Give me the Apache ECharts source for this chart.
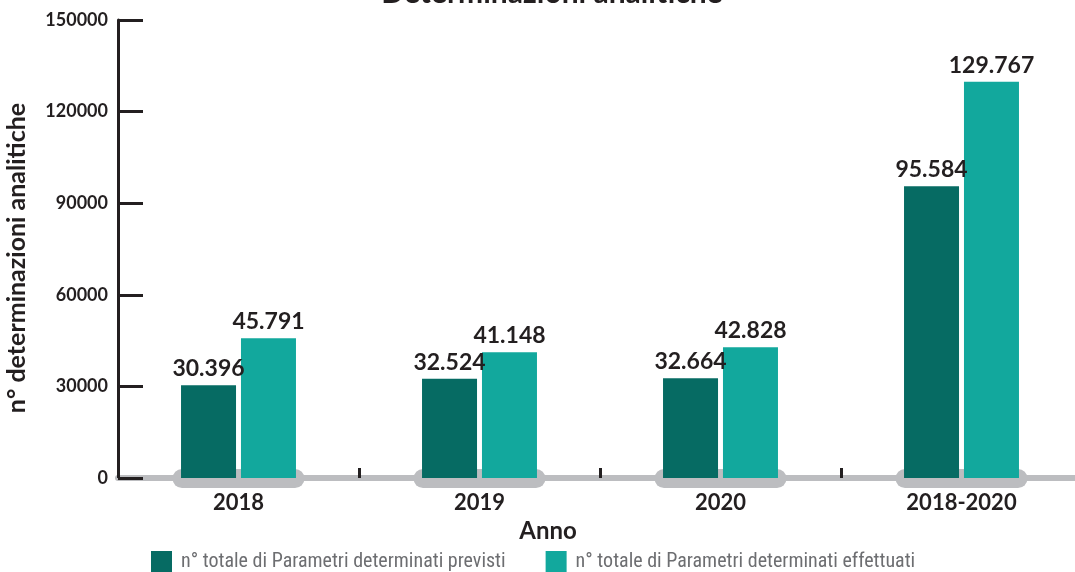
<!DOCTYPE html>
<html>
<head>
<meta charset="utf-8">
<script src="https://cdn.jsdelivr.net/npm/echarts@6/dist/echarts.min.js"></script>
<style>html,body{margin:0;padding:0;background:#fff;overflow:hidden}#c{width:1082px;height:572px}</style>
</head>
<body>
<div id="c"></div>
<script>
const titleText = 'Determinazioni analitiche';
const categories = ['2018', '2019', '2020', '2018-2020'];
const seriesNames = ['n° totale di Parametri determinati previsti', 'n° totale di Parametri determinati effettuati'];
const previsti = [30396, 32524, 32664, 95584];
const effettuati = [45791, 41148, 42828, 129767];
const yTicks = { min: 0, max: 150000, interval: 30000 };
const xName = 'Anno';
const yName = 'n° determinazioni analitiche';

const dark = '#066b63', light = '#12a89d', ink = '#231f20', grayLine = '#bcbdc0';
const FONT = 'Lato';
function fmt(v) { return String(v).replace(/\B(?=(\d{3})+(?!\d))/g, '.'); }

const chart = echarts.init(document.getElementById('c'));
const labelStyle = { show: true, position: 'top', distance: 5, color: ink, fontFamily: FONT, fontWeight: 'bold', fontSize: 23, formatter: p => fmt(p.value) };

chart.setOption({
  animation: false,
  title: { text: titleText, left: 547, textAlign: 'center', top: -27, textStyle: { fontFamily: FONT, fontWeight: 'bold', fontSize: 30, color: ink } },
  grid: { left: 118, top: 20, bottom: 94, right: 0, containLabel: false, outerBoundsMode: 'none' },
  legend: {
    data: seriesNames, left: 151, top: 551, itemWidth: 21, itemHeight: 21, itemGap: 40, padding: 0,
    icon: 'rect',
    textStyle: { fontFamily: 'Liberation Sans Narrow, Roboto Condensed, DejaVu Sans Condensed', fontSize: 20, color: '#6d6e71', padding: [0, 0, 0, 4] }
  },
  xAxis: {
    type: 'category', data: categories,
    axisLine: { lineStyle: { color: grayLine, width: 6 } },
    axisTick: { show: true, inside: true, length: 10, lineStyle: { color: ink, width: 3 } },
    axisLabel: { color: ink, fontFamily: FONT, fontWeight: 'bold', fontSize: 22, margin: 14 },
    name: xName, nameLocation: 'middle', nameGap: 36,
    nameTextStyle: { color: ink, fontFamily: FONT, fontWeight: 'bold', fontSize: 24, padding: [0, 104, 0, 0] }
  },
  yAxis: {
    type: 'value', min: yTicks.min, max: yTicks.max, interval: yTicks.interval,
    axisLine: { show: true, lineStyle: { color: ink, width: 3 } },
    axisTick: { show: true, inside: true, length: 25, lineStyle: { color: ink, width: 3 } },
    axisLabel: { color: ink, fontFamily: FONT, fontWeight: 'bold', fontSize: 18, margin: 10, formatter: v => String(v) },
    splitLine: { show: false },
    name: yName, nameLocation: 'middle', nameGap: 89,
    nameTextStyle: { color: ink, fontFamily: FONT, fontWeight: 'bold', fontSize: 25, padding: [0, 18, 0, 0] }
  },
  series: [
    {
      type: 'custom', silent: true, z: 1,
      data: categories.map((c, i) => [i, 0]),
      encode: { x: 0, y: 1 },
      renderItem: (params, api) => {
        const p = api.coord([api.value(0), 0]);
        return { type: 'rect', shape: { x: p[0] - 66, y: p[1] - 9, width: 132, height: 19, r: 9.5 }, style: { fill: grayLine } };
      }
    },
    { name: seriesNames[0], type: 'bar', data: previsti, barWidth: 55, barGap: '9%', z: 3, itemStyle: { color: dark }, label: labelStyle },
    { name: seriesNames[1], type: 'bar', data: effettuati, barWidth: 55, barGap: '9%', z: 3, itemStyle: { color: light }, label: labelStyle }
  ]
});
</script>
</body>
</html>
